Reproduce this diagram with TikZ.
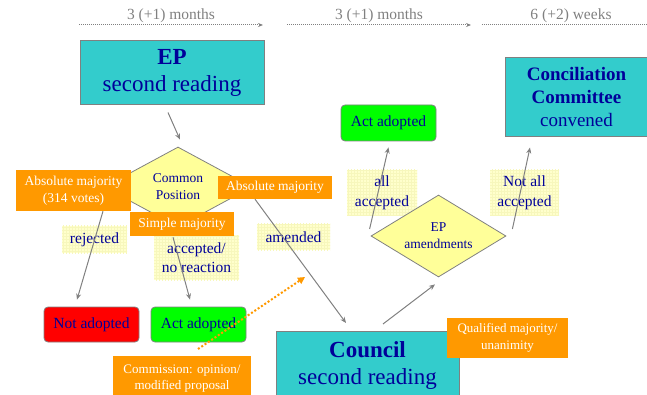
\documentclass[tikz,border=0pt]{standalone}
\usepackage{fontspec}
\setmainfont{Liberation Serif}
\usetikzlibrary{shapes.geometric,arrows.meta,patterns}

\definecolor{stageteal}{HTML}{33CCCC}
\definecolor{textblue}{HTML}{000099}
\definecolor{voteorange}{HTML}{FF9900}
\definecolor{adoptgreen}{HTML}{00FF00}
\definecolor{rejectred}{HTML}{FF0000}
\definecolor{diamondyellow}{HTML}{FFFF99}
\definecolor{notefill}{HTML}{FFFFCC}
\definecolor{notegrid}{HTML}{F7F7BC}
\definecolor{linegray}{HTML}{808080}

\tikzset{
	stagebox/.style={draw=linegray, line width=1pt, fill=stageteal, text=textblue, align=center, inner sep=0pt},
	resultbox/.style={draw=linegray, line width=0.8pt, fill=#1, rounded corners=4pt, text=textblue, minimum width=95pt, minimum height=35pt, inner sep=0pt, font=\fontsize{15.5}{19}\selectfont},
	votebox/.style={fill=voteorange, text=white, align=center, inner sep=0pt, font=\fontsize{13.5}{17}\selectfont},
	notelabel/.style={preaction={fill=notefill}, pattern=grid, pattern color=notegrid, text=textblue, align=center, inner sep=0pt, font=\fontsize{15.5}{19.5}\selectfont},
	decision/.style={diamond, draw=linegray, line width=0.8pt, fill=diamondyellow, text=textblue, align=center, inner sep=0pt, font=\fontsize{13.5}{17}\selectfont},
	flow/.style={draw=linegray, line width=1pt, -{Stealth[length=6pt,width=5pt]}},
	period/.style={draw=linegray, line width=1pt, dash pattern=on 1pt off 1pt, -{Stealth[length=5pt,width=4pt]}},
	periodlabel/.style={text=linegray, font=\fontsize{15.5}{19}\selectfont, inner sep=0pt},
	proposal/.style={draw=voteorange, line width=2pt, dash pattern=on 2pt off 2pt, -{Triangle[length=7pt,width=7pt]}},
}

\begin{document}
\begin{tikzpicture}[x=1pt,y=-1pt]
			\useasboundingbox (0,0) rectangle (647,395);
			\clip (0,0) rectangle (647,395);

			\coordinate (m1s) at (79,25);
			\coordinate (m1e) at (263,25);
			\coordinate (m2s) at (287,25);
			\coordinate (m2e) at (471,25);
			\coordinate (w3s) at (482,25);
			\coordinate (w3e) at (660,25);
			\draw[period] (m1s) -- node[periodlabel, midway, above=2pt] {3 (+1) months} (m1e);
			\draw[period] (m2s) -- node[periodlabel, midway, above=2pt] {3 (+1) months} (m2e);
			\draw[period] (w3s) -- node[periodlabel, pos=0.5, above=2pt] {6 (+2) weeks} (w3e);

			\node[stagebox, minimum width=184pt, minimum height=64pt, font=\fontsize{23}{27}\selectfont] (ep) at (172,73) {\textbf{EP}\\second reading};
			\node[stagebox, minimum width=143pt, minimum height=79pt, font=\fontsize{19}{23}\selectfont] (concil) at (576.5,97.5) {\textbf{Conciliation}\\\textbf{Committee}\\convened};
			\node[stagebox, anchor=north, minimum width=183pt, inner ysep=10pt, font=\fontsize{23}{27}\selectfont] (council) at (367.5,331) {\textbf{Council}\\second reading};

			\node[resultbox=adoptgreen, minimum height=36pt] (acttop) at (388.5,123) {Act adopted};
			\node[resultbox=rejectred] (notadopted) at (91.5,324.5) {Not adopted};
			\node[resultbox=adoptgreen] (actbot) at (198.5,324.5) {Act adopted};

			\node[notelabel, minimum width=65pt, minimum height=27pt] (rejected) at (94.5,239.5) {rejected};
			\node[notelabel, minimum width=85pt, minimum height=45pt] (accepted) at (196.5,257.5) {accepted/\\no reaction};
			\node[notelabel, minimum width=73pt, minimum height=26pt] (amended) at (293.5,237) {amended};
			\node[notelabel, minimum width=70pt, minimum height=46pt] (allacc) at (382,193) {all\\accepted};
			\node[notelabel, minimum width=69pt, minimum height=46pt] (notallacc) at (524.5,193) {Not all\\accepted};

			\node[decision, shape aspect=1.85, minimum width=148pt, minimum height=80pt] (cp) at (178,187) {Common\\Position};
			\node[decision, shape aspect=1.65, minimum width=135pt, minimum height=82pt] (epam) at (438.5,236) {EP\\amendments};

			\node[votebox, minimum width=115pt, minimum height=41pt] (absl) at (73.5,190.5) {Absolute majority\\(314 votes)};
			\node[votebox, minimum width=114pt, minimum height=23pt] (absr) at (275,187.5) {Absolute majority};
			\node[votebox, minimum width=104pt, minimum height=24pt] (simple) at (182,224) {Simple majority};
			\node[votebox, minimum width=121pt, minimum height=40pt, font=\fontsize{13}{17}\selectfont] (qual) at (507.5,338) {Qualified majority/\\unanimity};
			\node[votebox, anchor=north, minimum width=138pt, minimum height=44pt, font=\fontsize{13}{16}\selectfont] (comm) at (182,356) {Commission: opinion/\\modified proposal};

			\draw[flow] ([shift={(-4,7)}]ep.south) -- ([shift={(2,-7)}]cp.north);
			\draw[flow] ([shift={(29.5,0)}]absl.south) -- ([shift={(-14.5,-7)}]notadopted.north);
			\draw[flow] ([shift={(-9,1)}]simple.south) -- ([shift={(-8.5,-7)}]actbot.north);
			\draw[flow] ([shift={(-20,0)}]absr.south) -- ([shift={(-21.5,-8)}]council.north);
			\draw[flow] ([shift={(15.5,-7)}]council.north) -- ([shift={(-3.5,7)}]epam.south);
			\draw[flow] ([shift={(-1,-7)}]epam.west) -- ([shift={(0,6)}]acttop.south);
			\draw[flow] ([shift={(6,-7)}]epam.east) -- ([shift={(-46.5,10)}]concil.south);

			\coordinate (amendtip) at (305,277);
			\draw[proposal] ([shift={(16,-7)}]comm.north) -- (amendtip);
		\end{tikzpicture}
\end{document}
